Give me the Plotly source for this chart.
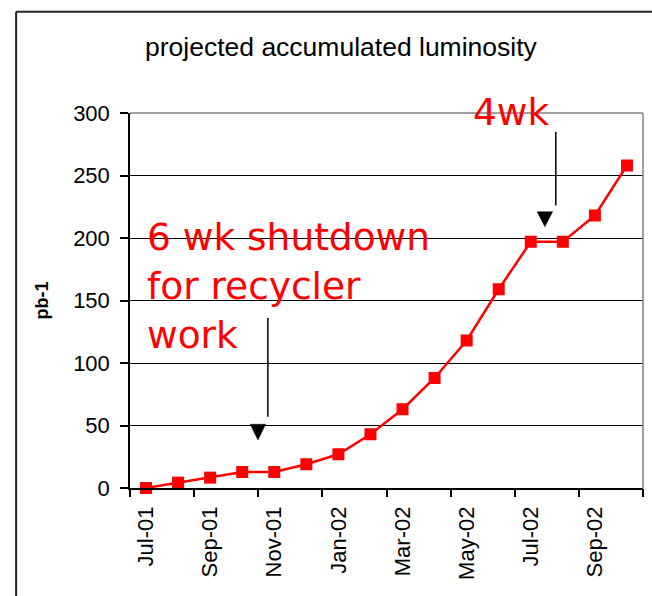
import plotly.graph_objects as go

months = ["Jul-01", "Aug-01", "Sep-01", "Oct-01", "Nov-01", "Dec-01",
          "Jan-02", "Feb-02", "Mar-02", "Apr-02", "May-02", "Jun-02",
          "Jul-02", "Aug-02", "Sep-02", "Oct-02"]
lumi = [0, 4.3, 8.3, 12.8, 12.8, 19, 27, 43, 63, 88, 118, 159, 197, 197, 218, 258]
tick_labels = months[::2]
y_ticks = [0, 50, 100, 150, 200, 250, 300]

title_text = "projected accumulated luminosity"
y_title = "pb-1"
note1 = "6 wk shutdown<br>for recycler<br>work"
note2 = "4wk"

RED = "#FF0000"
FONT = "Arial, Liberation Sans, sans-serif"
NOTE_FONT = "DejaVu Sans, Verdana, sans-serif"

fig = go.Figure()
fig.add_trace(go.Scatter(
    x=months, y=lumi, mode="lines+markers",
    line=dict(color=RED, width=2.5),
    marker=dict(symbol="square", size=12, color=RED),
    showlegend=False, cliponaxis=False,
))

n = len(months)
boundaries = [i - 0.5 for i in range(0, n + 1, 2)]

fig.update_layout(
    width=652, height=596,
    margin=dict(l=130, r=9, t=113, b=108),
    paper_bgcolor="white", plot_bgcolor="white",
    xaxis=dict(
        type="category", range=[-0.5, n - 0.5],
        tickmode="array", tickvals=tick_labels, ticktext=tick_labels,
        tickangle=-90, ticks="", showgrid=False, zeroline=False,
        showline=True, linecolor="black", linewidth=1.5,
        tickfont=dict(family=FONT, size=22, color="black"),
        ticklabelstandoff=8,
    ),
    xaxis2=dict(
        overlaying="x", anchor="y", range=[-0.5, n - 0.5],
        tickmode="array", tickvals=boundaries, showticklabels=False,
        ticks="outside", ticklen=8, tickcolor="black", tickwidth=1.5,
        showgrid=False, zeroline=False, showline=False,
    ),
    yaxis=dict(
        range=[0, 300], tickmode="array", tickvals=y_ticks,
        ticks="outside", ticklen=8, tickcolor="black", tickwidth=1.5,
        showgrid=True, gridcolor="black", gridwidth=1,
        zeroline=False, showline=True, linecolor="black", linewidth=1.5,
        tickfont=dict(family=FONT, size=22, color="black"),
        ticklabelstandoff=6,
        title=dict(text="<b>" + y_title + "</b>", font=dict(family=FONT, size=18, color="black"), standoff=20),
    ),
)

# plot-area border (top and right, gray)
fig.add_shape(type="line", xref="paper", yref="paper", x0=0, x1=1, y0=1, y1=1,
              line=dict(color="#808080", width=1.5))
fig.add_shape(type="line", xref="paper", yref="paper", x0=1, x1=1, y0=0, y1=1,
              line=dict(color="#808080", width=1.5))
# outer chart frame (left and top)
fig.add_shape(type="line", xref="paper", yref="paper", x0=-0.222, x1=-0.222, y0=-0.3, y1=1.27,
              line=dict(color="#222222", width=2))
fig.add_shape(type="line", xref="paper", yref="paper", x0=-0.222, x1=1.1, y0=1.27, y1=1.27,
              line=dict(color="#222222", width=2))

# title
fig.add_annotation(text=title_text, xref="paper", yref="paper", x=0.412, y=1.175,
                   xanchor="center", yanchor="middle", showarrow=False,
                   font=dict(family=FONT, size=26.5, color="black"))

# red notes
fig.add_annotation(text=note1, xref="paper", yref="y", x=0.03, y=162,
                   xanchor="left", yanchor="middle", align="left", showarrow=False,
                   font=dict(family=NOTE_FONT, size=37.5, color=RED))
fig.add_annotation(text=note2, xref="paper", yref="paper", x=0.665, y=1.003,
                   xanchor="left", yanchor="middle", align="left", showarrow=False,
                   font=dict(family=NOTE_FONT, size=37.5, color=RED))

# pointer lines and triangles
def pointer(xl, y0, y1, xt, ttop, tbot):
    fig.add_shape(type="line", xref="x2", yref="y", x0=xl, x1=xl, y0=y0, y1=y1,
                  line=dict(color="black", width=1.5))
    fig.add_shape(type="path", xref="x2", yref="y",
                  path=f"M {xt-0.24},{ttop} L {xt+0.24},{ttop} L {xt},{tbot} Z",
                  fillcolor="black", line=dict(color="black", width=0.5))

pointer(3.80, 136, 57, 3.49, 51, 38.5)
pointer(12.78, 285, 226, 12.44, 221, 209)

fig.write_html("out.html", config={"displayModeBar": False},
               post_script="document.body.style.margin='0';")
